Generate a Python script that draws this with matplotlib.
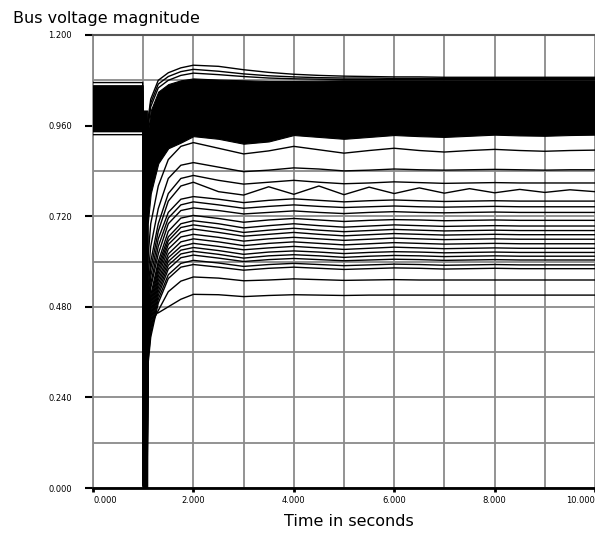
import numpy as np
import matplotlib
matplotlib.use("Agg")
import matplotlib.pyplot as plt

# time axis: pre-fault, fault on at ~1.0 s, cleared ~1.08 s, then recovery samples
fault_t = [0.0, 0.99, 0.991, 1.08]
post_t = [1.09, 1.15, 1.3, 1.5, 1.75, 2.0, 2.5, 3.0, 3.5, 4.0, 4.5, 5.0,
          5.5, 6.0, 6.5, 7.0, 7.5, 8.0, 8.5, 9.0, 9.5, 10.0]

# envelope of the dense bundle of buses near nominal voltage
band_top = [1.067, 1.067, 1.00, 1.00,
            0.94, 1.00, 1.05, 1.07, 1.08, 1.085, 1.082, 1.080, 1.078, 1.078, 1.079,
            1.080, 1.080, 1.080, 1.080, 1.080, 1.080, 1.080, 1.080, 1.080, 1.080, 1.080]
band_bot = [0.948, 0.948, 0.0, 0.0,
            0.70, 0.78, 0.86, 0.90, 0.915, 0.932, 0.925, 0.912, 0.918, 0.935, 0.930,
            0.925, 0.930, 0.935, 0.932, 0.930, 0.933, 0.936, 0.934, 0.933, 0.935, 0.936]

# buses swinging above the bundle after clearing
top_pre = [1.074, 1.060, 1.050]
top_fault = [0.55, 0.50, 0.45]
top_post = [
    [0.97, 1.03, 1.08, 1.100, 1.113, 1.120, 1.117, 1.108, 1.101, 1.096, 1.093,
     1.091, 1.090, 1.089, 1.089, 1.088, 1.088, 1.088, 1.088, 1.088, 1.088, 1.088],
    [0.96, 1.02, 1.07, 1.090, 1.103, 1.109, 1.104, 1.097, 1.092, 1.089, 1.087,
     1.086, 1.086, 1.085, 1.085, 1.085, 1.085, 1.085, 1.085, 1.085, 1.085, 1.085],
    [0.95, 1.01, 1.06, 1.080, 1.093, 1.099, 1.095, 1.090, 1.086, 1.084, 1.083,
     1.082, 1.082, 1.082, 1.082, 1.082, 1.082, 1.082, 1.082, 1.082, 1.082, 1.082],
]

# buses that settle below the bundle
upper_pre = [0.936, 0.944, 0.950, 0.955]
upper_fault = [0.30, 0.26, 0.22, 0.20]
upper_post = [
    [0.60, 0.70, 0.80, 0.87, 0.905, 0.915, 0.900, 0.885, 0.893, 0.905, 0.896,
     0.887, 0.894, 0.900, 0.894, 0.890, 0.894, 0.897, 0.894, 0.892, 0.894, 0.895],
    [0.55, 0.64, 0.74, 0.82, 0.855, 0.862, 0.850, 0.838, 0.842, 0.848, 0.845,
     0.840, 0.842, 0.845, 0.843, 0.842, 0.843, 0.844, 0.843, 0.842, 0.843, 0.843],
    [0.52, 0.60, 0.70, 0.78, 0.820, 0.828, 0.815, 0.805, 0.810, 0.815, 0.810,
     0.806, 0.808, 0.811, 0.809, 0.807, 0.808, 0.809, 0.808, 0.808, 0.808, 0.808],
    [0.50, 0.58, 0.68, 0.76, 0.800, 0.810, 0.785, 0.776, 0.798, 0.778, 0.800,
     0.777, 0.797, 0.780, 0.795, 0.781, 0.793, 0.782, 0.791, 0.783, 0.790, 0.785],
]

middle_pre = [0.960, 0.965, 0.970, 0.975, 0.980, 0.985, 0.990, 0.995,
              1.000, 1.005, 1.010, 1.015, 1.020, 1.025, 1.030]
middle_fault = [0.18, 0.16, 0.15, 0.14, 0.12, 0.11, 0.10, 0.09,
                0.08, 0.07, 0.06, 0.05, 0.04, 0.03, 0.02]
middle_post = [
    [0.48, 0.56, 0.66, 0.730, 0.765, 0.772, 0.765, 0.756, 0.762, 0.766, 0.762,
     0.758, 0.761, 0.763, 0.761, 0.759, 0.760, 0.761, 0.760, 0.760, 0.760, 0.760],
    [0.46, 0.54, 0.64, 0.715, 0.750, 0.758, 0.750, 0.741, 0.746, 0.750, 0.746,
     0.743, 0.745, 0.747, 0.745, 0.744, 0.745, 0.746, 0.745, 0.745, 0.745, 0.745],
    [0.45, 0.53, 0.62, 0.700, 0.735, 0.742, 0.735, 0.726, 0.730, 0.734, 0.730,
     0.727, 0.730, 0.732, 0.730, 0.729, 0.730, 0.731, 0.730, 0.730, 0.730, 0.730],
    [0.43, 0.51, 0.60, 0.680, 0.715, 0.722, 0.714, 0.704, 0.710, 0.714, 0.710,
     0.706, 0.709, 0.711, 0.710, 0.708, 0.709, 0.710, 0.709, 0.709, 0.709, 0.709],
    [0.42, 0.50, 0.59, 0.665, 0.700, 0.708, 0.700, 0.689, 0.695, 0.700, 0.695,
     0.691, 0.694, 0.697, 0.695, 0.693, 0.694, 0.695, 0.694, 0.694, 0.694, 0.694],
    [0.41, 0.49, 0.58, 0.655, 0.690, 0.697, 0.688, 0.677, 0.683, 0.688, 0.683,
     0.679, 0.682, 0.685, 0.683, 0.681, 0.682, 0.683, 0.682, 0.682, 0.682, 0.682],
    [0.40, 0.48, 0.57, 0.645, 0.678, 0.686, 0.677, 0.667, 0.672, 0.677, 0.672,
     0.668, 0.671, 0.674, 0.672, 0.670, 0.671, 0.672, 0.671, 0.671, 0.671, 0.671],
    [0.39, 0.47, 0.56, 0.633, 0.665, 0.672, 0.664, 0.654, 0.660, 0.664, 0.660,
     0.656, 0.659, 0.662, 0.660, 0.658, 0.659, 0.660, 0.659, 0.659, 0.659, 0.659],
    [0.38, 0.46, 0.55, 0.620, 0.652, 0.660, 0.652, 0.642, 0.648, 0.652, 0.648,
     0.644, 0.647, 0.650, 0.648, 0.646, 0.647, 0.648, 0.647, 0.647, 0.647, 0.647],
    [0.37, 0.45, 0.54, 0.610, 0.640, 0.648, 0.640, 0.631, 0.636, 0.640, 0.636,
     0.632, 0.635, 0.638, 0.636, 0.634, 0.635, 0.636, 0.635, 0.635, 0.635, 0.635],
    [0.36, 0.44, 0.53, 0.600, 0.630, 0.637, 0.629, 0.619, 0.625, 0.628, 0.625,
     0.621, 0.624, 0.626, 0.625, 0.623, 0.624, 0.625, 0.624, 0.624, 0.624, 0.624],
    [0.35, 0.43, 0.52, 0.590, 0.620, 0.627, 0.619, 0.609, 0.615, 0.618, 0.615,
     0.611, 0.614, 0.616, 0.615, 0.613, 0.614, 0.615, 0.614, 0.614, 0.614, 0.614],
    [0.34, 0.42, 0.51, 0.580, 0.610, 0.617, 0.609, 0.600, 0.605, 0.608, 0.605,
     0.602, 0.604, 0.606, 0.605, 0.603, 0.604, 0.605, 0.604, 0.604, 0.604, 0.604],
    [0.33, 0.41, 0.50, 0.565, 0.595, 0.603, 0.596, 0.587, 0.592, 0.595, 0.592,
     0.589, 0.591, 0.593, 0.592, 0.590, 0.591, 0.592, 0.591, 0.591, 0.591, 0.591],
    [0.32, 0.40, 0.49, 0.555, 0.585, 0.592, 0.585, 0.577, 0.582, 0.585, 0.582,
     0.579, 0.581, 0.583, 0.582, 0.580, 0.581, 0.582, 0.581, 0.581, 0.581, 0.581],
]

lower_pre = [1.035, 1.040]
lower_fault = [0.01, 0.005]
lower_post = [
    [0.42, 0.43, 0.47, 0.520, 0.548, 0.559, 0.556, 0.549, 0.551, 0.554, 0.552,
     0.550, 0.551, 0.552, 0.551, 0.551, 0.551, 0.551, 0.551, 0.551, 0.551, 0.551],
    [0.47, 0.462, 0.464, 0.480, 0.500, 0.513, 0.512, 0.507, 0.510, 0.512, 0.511,
     0.510, 0.511, 0.511, 0.511, 0.511, 0.511, 0.511, 0.511, 0.511, 0.511, 0.511],
]

x_ticks = [0, 2, 4, 6, 8, 10]
x_labels = ["0.000", "2.000", "4.000", "6.000", "8.000", "10.000"]
y_ticks = [0.0, 0.24, 0.48, 0.72, 0.96, 1.2]
y_labels = ["0.000", "0.240", "0.480", "0.720", "0.960", "1.200"]

t_all = fault_t + post_t

fig = plt.figure(figsize=(5.95, 5.34), dpi=100)
ax = fig.add_axes([93 / 595, 46 / 534, 502 / 595, 453 / 534])

ax.fill_between(t_all, band_bot, band_top, color="black", lw=0.8, zorder=3)

groups = [(top_pre, top_fault, top_post),
          (upper_pre, upper_fault, upper_post),
          (middle_pre, middle_fault, middle_post),
          (lower_pre, lower_fault, lower_post)]
for pre, flt, post in groups:
    for p, f, vals in zip(pre, flt, post):
        ax.plot(t_all, [p, p, f, f] + vals, color="black", lw=1.0, zorder=4)

ax.set_xlim(0, 10)
ax.set_ylim(0, 1.2)
ax.set_xticks(x_ticks)
ax.set_xticklabels(x_labels)
ax.set_xticks(np.arange(0, 11, 1), minor=True)
ax.set_yticks(y_ticks)
ax.set_yticklabels(y_labels)
ax.set_yticks(np.arange(0, 1.21, 0.12), minor=True)

ax.grid(which="both", color="#8a8a8a", lw=1.3, zorder=1)
ax.set_axisbelow(True)

ax.tick_params(axis="x", which="major", length=3, width=2, pad=3,
               labelsize=6, color="black")
ax.tick_params(axis="y", which="major", length=6, width=1.5, pad=9,
               labelsize=6, color="black")
ax.tick_params(which="minor", length=0)

xl = ax.get_xticklabels()
xl[0].set_horizontalalignment("left")
xl[-1].set_horizontalalignment("right")

ax.spines["left"].set_color("#8a8a8a")
ax.spines["left"].set_linewidth(1.3)
ax.spines["bottom"].set_color("black")
ax.spines["bottom"].set_linewidth(2)
ax.spines["top"].set_color("#555555")
ax.spines["top"].set_linewidth(1.5)
ax.spines["right"].set_visible(False)

fig.text(13 / 595, 1 - 11 / 534, "Bus voltage magnitude", fontsize=11.5,
         ha="left", va="top")
fig.text(349 / 595, 1 - 514 / 534, "Time in seconds", fontsize=11.5,
         ha="center", va="top")

fig.savefig("out.png", dpi=100)
